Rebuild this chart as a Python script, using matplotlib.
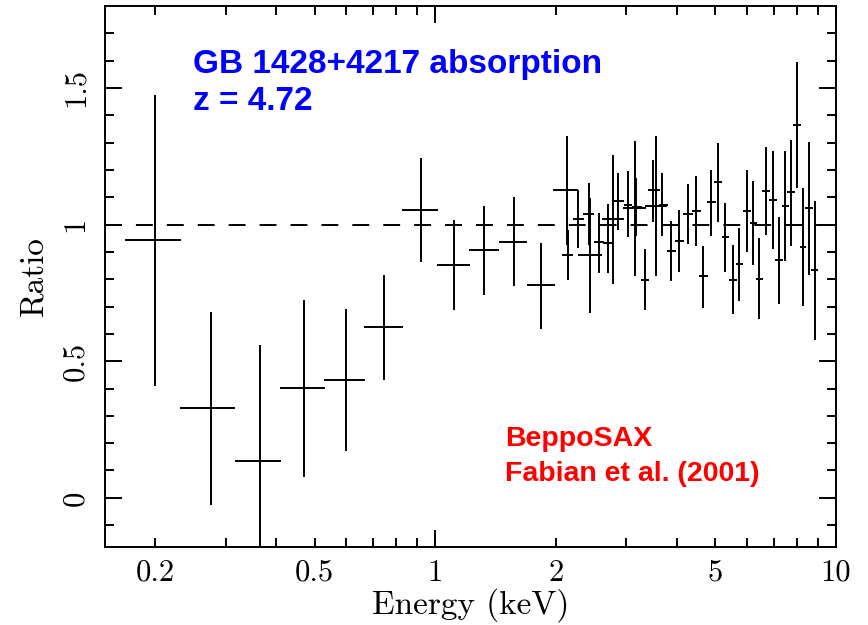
import matplotlib
matplotlib.use("Agg")
import matplotlib.pyplot as plt
import numpy as np

# LECS bins (keV): centre, low edge, high edge; ratio with its error range
lecs_e   = [0.200, 0.275, 0.365, 0.470, 0.599, 0.745, 0.921, 1.117, 1.327, 1.568, 1.834, 2.130, 2.440, 2.784, 3.154, 3.557]
lecs_elo = [0.168, 0.231, 0.316, 0.411, 0.528, 0.666, 0.825, 1.013, 1.216, 1.439, 1.693, 1.972, 2.269, 2.604, 2.949, 3.339]
lecs_ehi = [0.232, 0.317, 0.413, 0.531, 0.668, 0.829, 1.019, 1.222, 1.444, 1.699, 1.985, 2.277, 2.614, 2.960, 3.358, 3.783]
lecs_r   = [0.944, 0.329, 0.136, 0.402, 0.432, 0.625, 1.054, 0.851, 0.906, 0.937, 0.778, 1.126, 0.887, 1.020, 1.060, 1.067]
lecs_rlo = [0.411, -0.026, -0.35, 0.078, 0.170, 0.433, 0.864, 0.689, 0.741, 0.774, 0.618, 0.927, 0.677, 0.781, 0.811, 0.813]
lecs_rhi = [1.475, 0.679, 0.561, 0.725, 0.692, 0.816, 1.243, 1.016, 1.067, 1.100, 0.933, 1.323, 1.098, 1.256, 1.305, 1.323]

# MECS bins
mecs_e   = [2.142, 2.277, 2.421, 2.560, 2.701, 2.855, 3.024, 3.177, 3.345, 3.503, 3.689,
            3.877, 4.067, 4.268, 4.476, 4.668, 4.870, 5.088, 5.288, 5.526, 5.741, 5.990,
            6.200, 6.440, 6.690, 6.950, 7.210, 7.460, 7.720, 8.010, 8.290, 8.560, 8.850]
mecs_elo = [2.070, 2.213, 2.344, 2.483, 2.620, 2.760, 2.950, 3.094, 3.260, 3.400, 3.610,
            3.780, 3.970, 4.150, 4.370, 4.560, 4.760, 4.970, 5.190, 5.400, 5.630, 5.850,
            6.090, 6.300, 6.550, 6.810, 7.050, 7.330, 7.560, 7.830, 8.120, 8.370, 8.660]
mecs_ehi = [2.213, 2.357, 2.496, 2.644, 2.780, 2.960, 3.094, 3.278, 3.420, 3.630, 3.800,
            3.980, 4.180, 4.390, 4.600, 4.780, 5.010, 5.200, 5.420, 5.650, 5.870, 6.130,
            6.340, 6.590, 6.860, 7.110, 7.390, 7.630, 7.890, 8.180, 8.440, 8.760, 9.040]
mecs_r   = [0.890, 1.021, 1.037, 0.937, 0.932, 1.085, 1.073, 1.065, 0.799, 1.126, 1.070,
            0.902, 0.940, 1.040, 1.050, 0.811, 1.082, 1.155, 0.954, 0.799, 0.854, 1.049,
            1.006, 0.801, 1.123, 1.091, 0.872, 1.067, 1.118, 1.363, 0.919, 1.061, 0.833]
mecs_rlo = [0.799, 0.915, 0.927, 0.823, 0.823, 0.982, 0.955, 0.957, 0.689, 1.009, 0.957,
            0.793, 0.826, 0.930, 0.923, 0.695, 0.959, 1.009, 0.826, 0.674, 0.720, 0.900,
            0.851, 0.653, 0.963, 0.911, 0.711, 0.866, 0.921, 1.135, 0.701, 0.817, 0.579]
mecs_rhi = [0.982, 1.126, 1.152, 1.043, 1.077, 1.189, 1.195, 1.171, 0.909, 1.238, 1.187,
            1.012, 1.052, 1.150, 1.177, 0.921, 1.199, 1.299, 1.079, 0.927, 0.988, 1.199,
            1.158, 0.951, 1.283, 1.268, 1.028, 1.268, 1.311, 1.594, 1.135, 1.302, 1.085]

xticks_major = [1, 10]
xticks_minor = [0.2, 0.3, 0.4, 0.5, 0.6, 0.7, 0.8, 0.9, 2, 3, 4, 5, 6, 7, 8, 9]
xlabels_minor = ["0.2", "", "", "0.5", "", "", "", "", "2", "", "", "5", "", "", "", ""]
yticks = [0, 0.5, 1, 1.5]
ylabels = ["0", "0.5", "1", "1.5"]

plt.rcParams['mathtext.fontset'] = 'cm'
plt.rcParams['axes.unicode_minus'] = False
lw = 1.4
serif = 'cmr10'

fig = plt.figure(figsize=(8.68, 6.25), dpi=100)
ax = fig.add_axes([105/868, 78/625, (836-105)/868, (547-6)/625])


def draw_bins(e, elo, ehi, r, rlo, rhi):
    e = np.array(e); r = np.array(r)
    xerr = [e - np.array(elo), np.array(ehi) - e]
    yerr = [r - np.array(rlo), np.array(rhi) - r]
    ax.errorbar(e, r, xerr=xerr, yerr=yerr, fmt='none', ecolor='k',
                elinewidth=lw, capsize=0)


draw_bins(lecs_e, lecs_elo, lecs_ehi, lecs_r, lecs_rlo, lecs_rhi)
draw_bins(mecs_e, mecs_elo, mecs_ehi, mecs_r, mecs_rlo, mecs_rhi)

ax.axhline(1.0, color='k', lw=lw, dashes=(8.7, 7.2))

ax.set_xscale('log')
ax.set_xlim(0.15, 10)
ax.set_ylim(-0.18, 1.80)

ax.set_xticks(xticks_major)
ax.set_xticklabels(["1", "10"])
ax.set_xticks(xticks_minor, minor=True)
ax.set_xticklabels(xlabels_minor, minor=True)
ax.set_yticks(yticks)
ax.set_yticklabels(ylabels, rotation=90, va='center')
ax.set_yticks(np.arange(-0.1, 1.75, 0.1), minor=True)

ax.tick_params(which='both', direction='in', top=True, right=True, width=lw,
               labelsize=22, pad=9)
ax.tick_params(axis='y', which='both', pad=11)
ax.tick_params(which='major', length=12)
ax.tick_params(which='minor', length=6.5)
for lab in ax.get_xticklabels(which='both') + ax.get_yticklabels():
    lab.set_fontfamily(serif)
for s in ax.spines.values():
    s.set_linewidth(lw)

ax.set_xlabel("Energy (keV)", fontsize=24, fontfamily=serif, labelpad=1)
ax.set_ylabel("Ratio", fontsize=24, fontfamily=serif, labelpad=10)

blue_kw = dict(color='#0000ff', fontsize=24, fontweight='bold', family='Liberation Sans')
fig.text(193/868, 1 - 65/625, "GB 1428+4217 absorption", va='center', **blue_kw)
fig.text(193/868, 1 - 101/625, "z = 4.72", va='center', **blue_kw)
red_kw = dict(color='#ff0000', fontsize=20.5, fontweight='bold', family='Liberation Sans')
fig.text(505/868, 1 - 439/625, "BeppoSAX", va='center', **red_kw)
fig.text(505/868, 1 - 474/625, "Fabian et al. (2001)", va='center', **red_kw)

fig.savefig("out.png", dpi=100)
